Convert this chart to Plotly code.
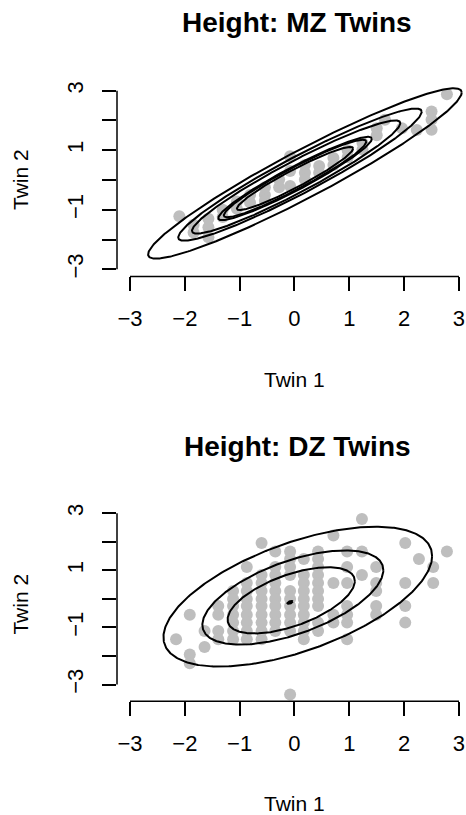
import numpy as np
import plotly.graph_objects as go

# ---------------- data ----------------
mz_twin1 = [-2.10, -1.84, -1.84, -1.57, -1.57, -1.57, -1.31, -1.31, -1.05, -1.05,
            -0.81, -0.81, -0.54, -0.54, -0.54, -0.28, -0.28, -0.08, -0.08, -0.08,
            0.19, 0.19, 0.19, 0.45, 0.45, 0.71, 0.71, 0.97, 0.97, 1.24,
            1.24, 1.50, 1.50, 1.65, 1.96, 2.23, 2.50, 2.50, 2.50, 2.78]
mz_twin2 = [-1.22, -1.76, -1.50, -1.92, -1.59, -1.30, -1.24, -1.00, -0.97, -0.72,
            -0.76, -0.50, -0.50, -0.24, -0.70, -0.24, 0.02, 0.80, 0.30, -0.20,
            0.24, 0.02, 0.50, 0.47, 0.24, 0.74, 0.50, 1.00, 0.76, 1.24,
            1.02, 1.74, 1.50, 2.02, 1.74, 1.68, 2.30, 2.02, 1.69, 2.88]

dz_columns = {
    -2.16: [-1.41],
    -1.91: [-0.55, -1.95, -2.25],
    -1.64: [-1.12, -1.68],
    -1.39: [-0.25, -0.55, -1.12, -1.41],
    -1.12: [0.28, 0.00, -0.25, -0.55, -0.83, -1.12, -1.41],
    -0.87: [1.12, 0.56, 0.28, 0.00, -0.25, -0.55, -0.83, -1.12, -1.41],
    -0.60: [1.96, 0.84, 0.56, 0.28, 0.00, -0.25, -0.55, -0.83, -1.12, -1.41],
    -0.35: [1.66, 1.12, 0.84, 0.56, 0.28, 0.00, -0.25, -0.55, -0.83, -1.12],
    -0.08: [1.66, 1.40, 1.12, 0.84, 0.28, 0.00, -0.25, -0.55, -0.83, -1.12, -3.35],
    0.17: [1.40, 0.84, 0.56, 0.28, 0.00, -0.25, -0.55, -0.83, -1.12, -1.41],
    0.43: [1.66, 1.40, 1.12, 0.84, 0.56, 0.28, 0.00, -0.25, -0.83, -1.12],
    0.71: [2.22, 0.56, -0.55, -0.83],
    0.96: [1.66, 1.12, 0.56, -0.25, -0.55, -0.83, -1.41],
    1.23: [2.80, 1.66, 0.84],
    1.49: [1.12, 0.56, 0.28, -0.25, -0.55],
    2.02: [1.96, 0.56, -0.25, -0.83],
    2.27: [1.40],
    2.53: [1.12, 0.56],
    2.78: [1.66],
}
dz_twin1 = [x for x, ys in dz_columns.items() for _ in ys]
dz_twin2 = [y for ys in dz_columns.values() for y in ys]

# contour ellipses (bivariate normal, Mahalanobis radius per contour)
mz_rho, mz_sd = 0.95, 1.0
mz_radius = [2.86, 2.22, 1.90, 1.40, 1.30, 1.06]
mz_cx = [0.19, 0.10, 0.03, 0.01, 0.01, 0.01]
mz_cy = [0.22, 0.18, 0.10, 0.05, 0.05, 0.05]

dz_rho, dz_sd = 0.58, 1.0
dz_radius = [2.45, 1.65, 1.16, 0.05]
dz_cx = [0.06, -0.03, -0.06, -0.08]
dz_cy = [0.08, 0.05, -0.05, -0.12]

tick_vals = [-3, -2, -1, 0, 1, 2, 3]
x_tick_text = ["\u22123", "\u22122", "\u22121", "0", "1", "2", "3"]
y_tick_text = ["\u22123", "", "\u22121", "", "1", "", "3"]

titles = ["Height: MZ Twins", "Height: DZ Twins"]

# ---------------- layout geometry ----------------
W, H = 466, 815
FONT = "Liberation Sans, Arial, Helvetica, sans-serif"
GREY = "#BEBEBE"


def ellipse(cx, cy, r, sd, rho):
    t = np.linspace(0, 2 * np.pi, 400)
    u = r * np.cos(t)
    v = r * np.sin(t)
    x = cx + sd * u
    y = cy + sd * (rho * u + np.sqrt(1 - rho ** 2) * v)
    return x, y


fig = go.Figure()

panels = [
    dict(xs=mz_twin1, ys=mz_twin2, rad=mz_radius, cx=mz_cx, cy=mz_cy, rho=mz_rho, sd=mz_sd,
         xa="x", ya="y", dom=[1 - 274.5 / H, 1 - 80.1 / H], yr=[-3.24, 3.24],
         title_y=19, xlab_y=378, ylab_y=177.3),
    dict(xs=dz_twin1, ys=dz_twin2, rad=dz_radius, cx=dz_cx, cy=dz_cy, rho=dz_rho, sd=dz_sd,
         xa="x2", ya="y2", dom=[1 - 702.3 / H, 1 - 507.6 / H], yr=[-3.58, 3.19],
         title_y=446, xlab_y=805, ylab_y=605),
]

for i, p in enumerate(panels):
    fig.add_trace(go.Scatter(x=p["xs"], y=p["ys"], mode="markers",
                             marker=dict(color=GREY, size=12, line=dict(width=0)),
                             xaxis=p["xa"], yaxis=p["ya"], showlegend=False,
                             hoverinfo="skip"))
    for r, cx, cy in zip(p["rad"], p["cx"], p["cy"]):
        ex, ey = ellipse(cx, cy, r, p["sd"], p["rho"])
        fig.add_trace(go.Scatter(x=ex, y=ey, mode="lines",
                                 line=dict(color="black", width=2),
                                 xaxis=p["xa"], yaxis=p["ya"], showlegend=False,
                                 hoverinfo="skip"))

    axis_common = dict(showgrid=False, zeroline=False, showline=False,
                       ticks="outside", ticklen=14, tickwidth=1.5, tickcolor="black",
                       tickvals=tick_vals, tickfont=dict(family=FONT, size=22, color="black"))
    xkey = "xaxis" if i == 0 else "xaxis2"
    ykey = "yaxis" if i == 0 else "yaxis2"
    fig.update_layout(**{
        xkey: dict(axis_common, domain=[117 / W, 1], range=[-3.237, 3.128],
                   anchor=p["ya"], ticktext=x_tick_text, ticklabelstandoff=8),
        ykey: dict(axis_common, domain=p["dom"], range=p["yr"], anchor=p["xa"],
                   ticktext=y_tick_text, tickangle=-90, ticklabelstandoff=10),
    })
    # axis lines spanning only the tick range (R style)
    fig.add_shape(type="line", xref=p["xa"], yref=p["ya"] + " domain",
                  x0=-3, x1=3, y0=0, y1=0, line=dict(color="black", width=1.5))
    fig.add_shape(type="line", xref=p["xa"] + " domain", yref=p["ya"],
                  x0=0, x1=0, y0=-3, y1=3, line=dict(color="black", width=1.5))

    fig.add_annotation(text="<b>%s</b>" % titles[i], x=297 / W, y=1 - p["title_y"] / H,
                       xref="paper", yref="paper", showarrow=False,
                       font=dict(family=FONT, size=28, color="black"),
                       xanchor="center", yanchor="middle")
    fig.add_annotation(text="Twin 1", x=294 / W, y=1 - p["xlab_y"] / H,
                       xref="paper", yref="paper", showarrow=False,
                       font=dict(family=FONT, size=21, color="black"),
                       xanchor="center", yanchor="middle")
    fig.add_annotation(text="Twin 2", x=21 / W, y=1 - p["ylab_y"] / H,
                       xref="paper", yref="paper", showarrow=False, textangle=-90,
                       font=dict(family=FONT, size=21, color="black"),
                       xanchor="center", yanchor="middle")

fig.update_layout(width=W, height=H, margin=dict(l=0, r=0, t=0, b=0, pad=0),
                  paper_bgcolor="white", plot_bgcolor="white", showlegend=False)

fig.write_html("out.html")
